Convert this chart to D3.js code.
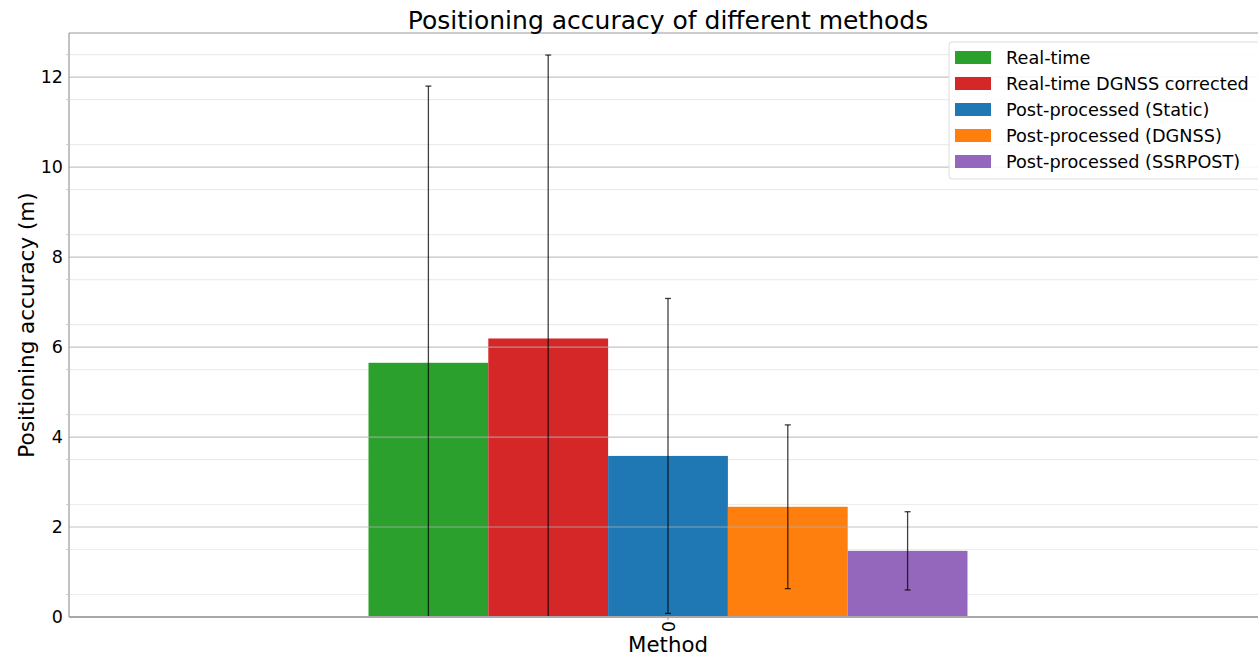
<!DOCTYPE html>
<html><head><meta charset="utf-8">
<script src="https://cdn.jsdelivr.net/npm/d3@7"></script>
<style>
body{margin:0;background:#fff;}
text{font-family:"DejaVu Sans",sans-serif;fill:#000;}
</style></head>
<body><svg id="c" width="1258" height="657"></svg>
<script>
const categories = ["0"];
const seriesNames = ["Real-time","Real-time DGNSS corrected","Post-processed (Static)","Post-processed (DGNSS)","Post-processed (SSRPOST)"];
const seriesColors = ["#2ca02c","#d62728","#1f77b4","#ff7f0e","#9467bd"];
const values = [5.65, 6.19, 3.58, 2.45, 1.47];
const errors = [6.15, 6.30, 3.50, 1.82, 0.87];
const yTicks = [0,2,4,6,8,10,12];

const svg = d3.select("#c");
const m = {left:69, top:33, bottom:617, right:1267};
const y = d3.scaleLinear().domain([0,12.98]).range([m.bottom, m.top]);
const x = d3.scaleLinear().domain([-0.5,0.5]).range([m.left, m.right]);
const barW = 0.1;

const defs = svg.append("defs");
defs.append("clipPath").attr("id","clip").append("rect")
  .attr("x",m.left).attr("y",m.top).attr("width",m.right-m.left).attr("height",m.bottom-m.top);

// minor grid
const minor = d3.range(0.5, 13, 1);
svg.append("g").selectAll("line").data(minor).join("line")
  .attr("x1",m.left).attr("x2",m.right).attr("y1",d=>y(d)).attr("y2",d=>y(d))
  .attr("stroke","#ececec").attr("stroke-width",1.2);

// bars
const gBars = svg.append("g").attr("clip-path","url(#clip)");
gBars.selectAll("rect").data(values).join("rect")
  .attr("x",(d,i)=>x(-0.25 + i*barW))
  .attr("width",x(barW)-x(0))
  .attr("y",d=>y(d))
  .attr("height",d=>y(0)-y(d))
  .attr("fill",(d,i)=>seriesColors[i]);

// major grid on top
svg.append("g").selectAll("line").data(yTicks.filter(d=>d>0)).join("line")
  .attr("x1",m.left).attr("x2",m.right).attr("y1",d=>y(d)).attr("y2",d=>y(d))
  .attr("stroke","#b0b0b0").attr("stroke-opacity",0.75).attr("stroke-width",1.2);

// error bars
const gErr = svg.append("g").attr("clip-path","url(#clip)");
values.forEach((v,i)=>{
  const cx = x(-0.25 + i*barW + barW/2);
  const lo = v - errors[i], hi = v + errors[i];
  gErr.append("line").attr("x1",cx).attr("x2",cx).attr("y1",y(lo)).attr("y2",y(hi))
    .attr("stroke","#000").attr("stroke-opacity",0.75).attr("stroke-width",1.3);
  [lo,hi].forEach(e=>{
    gErr.append("line").attr("x1",cx-3).attr("x2",cx+3).attr("y1",y(e)).attr("y2",y(e))
      .attr("stroke","#000").attr("stroke-opacity",0.75).attr("stroke-width",1.3);
  });
});

// spines
svg.append("line").attr("x1",m.left).attr("x2",m.right).attr("y1",m.top).attr("y2",m.top).attr("stroke","#999").attr("stroke-width",1.2);
svg.append("line").attr("x1",m.left).attr("x2",m.left).attr("y1",m.top).attr("y2",m.bottom).attr("stroke","#999").attr("stroke-width",1.2);
svg.append("line").attr("x1",m.left).attr("x2",m.right).attr("y1",m.bottom).attr("y2",m.bottom).attr("stroke","#a8a8a8").attr("stroke-width",2);

// y axis
const yAxis = d3.axisLeft(y).tickValues(yTicks).tickSize(0).tickPadding(6).tickFormat(d3.format("d"));
const ga = svg.append("g").attr("transform",`translate(${m.left},0)`).call(yAxis);
ga.select(".domain").remove();
ga.selectAll("text").attr("font-size",17.5).style("font-family","DejaVu Sans");

// minor ticks on y
svg.append("g").selectAll("line").data(minor).join("line")
  .attr("x1",m.left-3).attr("x2",m.left).attr("y1",d=>y(d)).attr("y2",d=>y(d)).attr("stroke","#ccc");

// x tick label (rotated)
categories.forEach(c=>{
  svg.append("line").attr("x1",x(0)).attr("x2",x(0)).attr("y1",m.bottom).attr("y2",m.bottom+3).attr("stroke","#999");
  svg.append("text").attr("transform",`translate(${x(0)},${m.bottom+4}) rotate(90)`)
    .attr("text-anchor","start").attr("dominant-baseline","central").attr("font-size",17.5).text(c);
});

// labels
svg.append("text").attr("x",668).attr("y",29).attr("text-anchor","middle").attr("font-size",25).text("Positioning accuracy of different methods");
svg.append("text").attr("x",668).attr("y",652).attr("text-anchor","middle").attr("font-size",21.3).text("Method");
svg.append("text").attr("transform",`translate(34,${(m.top+m.bottom)/2}) rotate(-90)`).attr("text-anchor","middle").attr("font-size",21.5).text("Positioning accuracy (m)");

// legend
const lg = svg.append("g").attr("transform","translate(949,42)");
lg.append("rect").attr("x",0).attr("y",0).attr("width",312).attr("height",137).attr("rx",3)
  .attr("fill","#fff").attr("fill-opacity",0.85).attr("stroke","#ddd");
seriesNames.forEach((n,i)=>{
  const yy = 15 + i*26;
  lg.append("rect").attr("x",6).attr("y",yy-6).attr("width",36).attr("height",13).attr("fill",seriesColors[i]);
  lg.append("text").attr("x",57).attr("y",yy+6.5).attr("font-size",17.7).text(n);
});
</script></body></html>
